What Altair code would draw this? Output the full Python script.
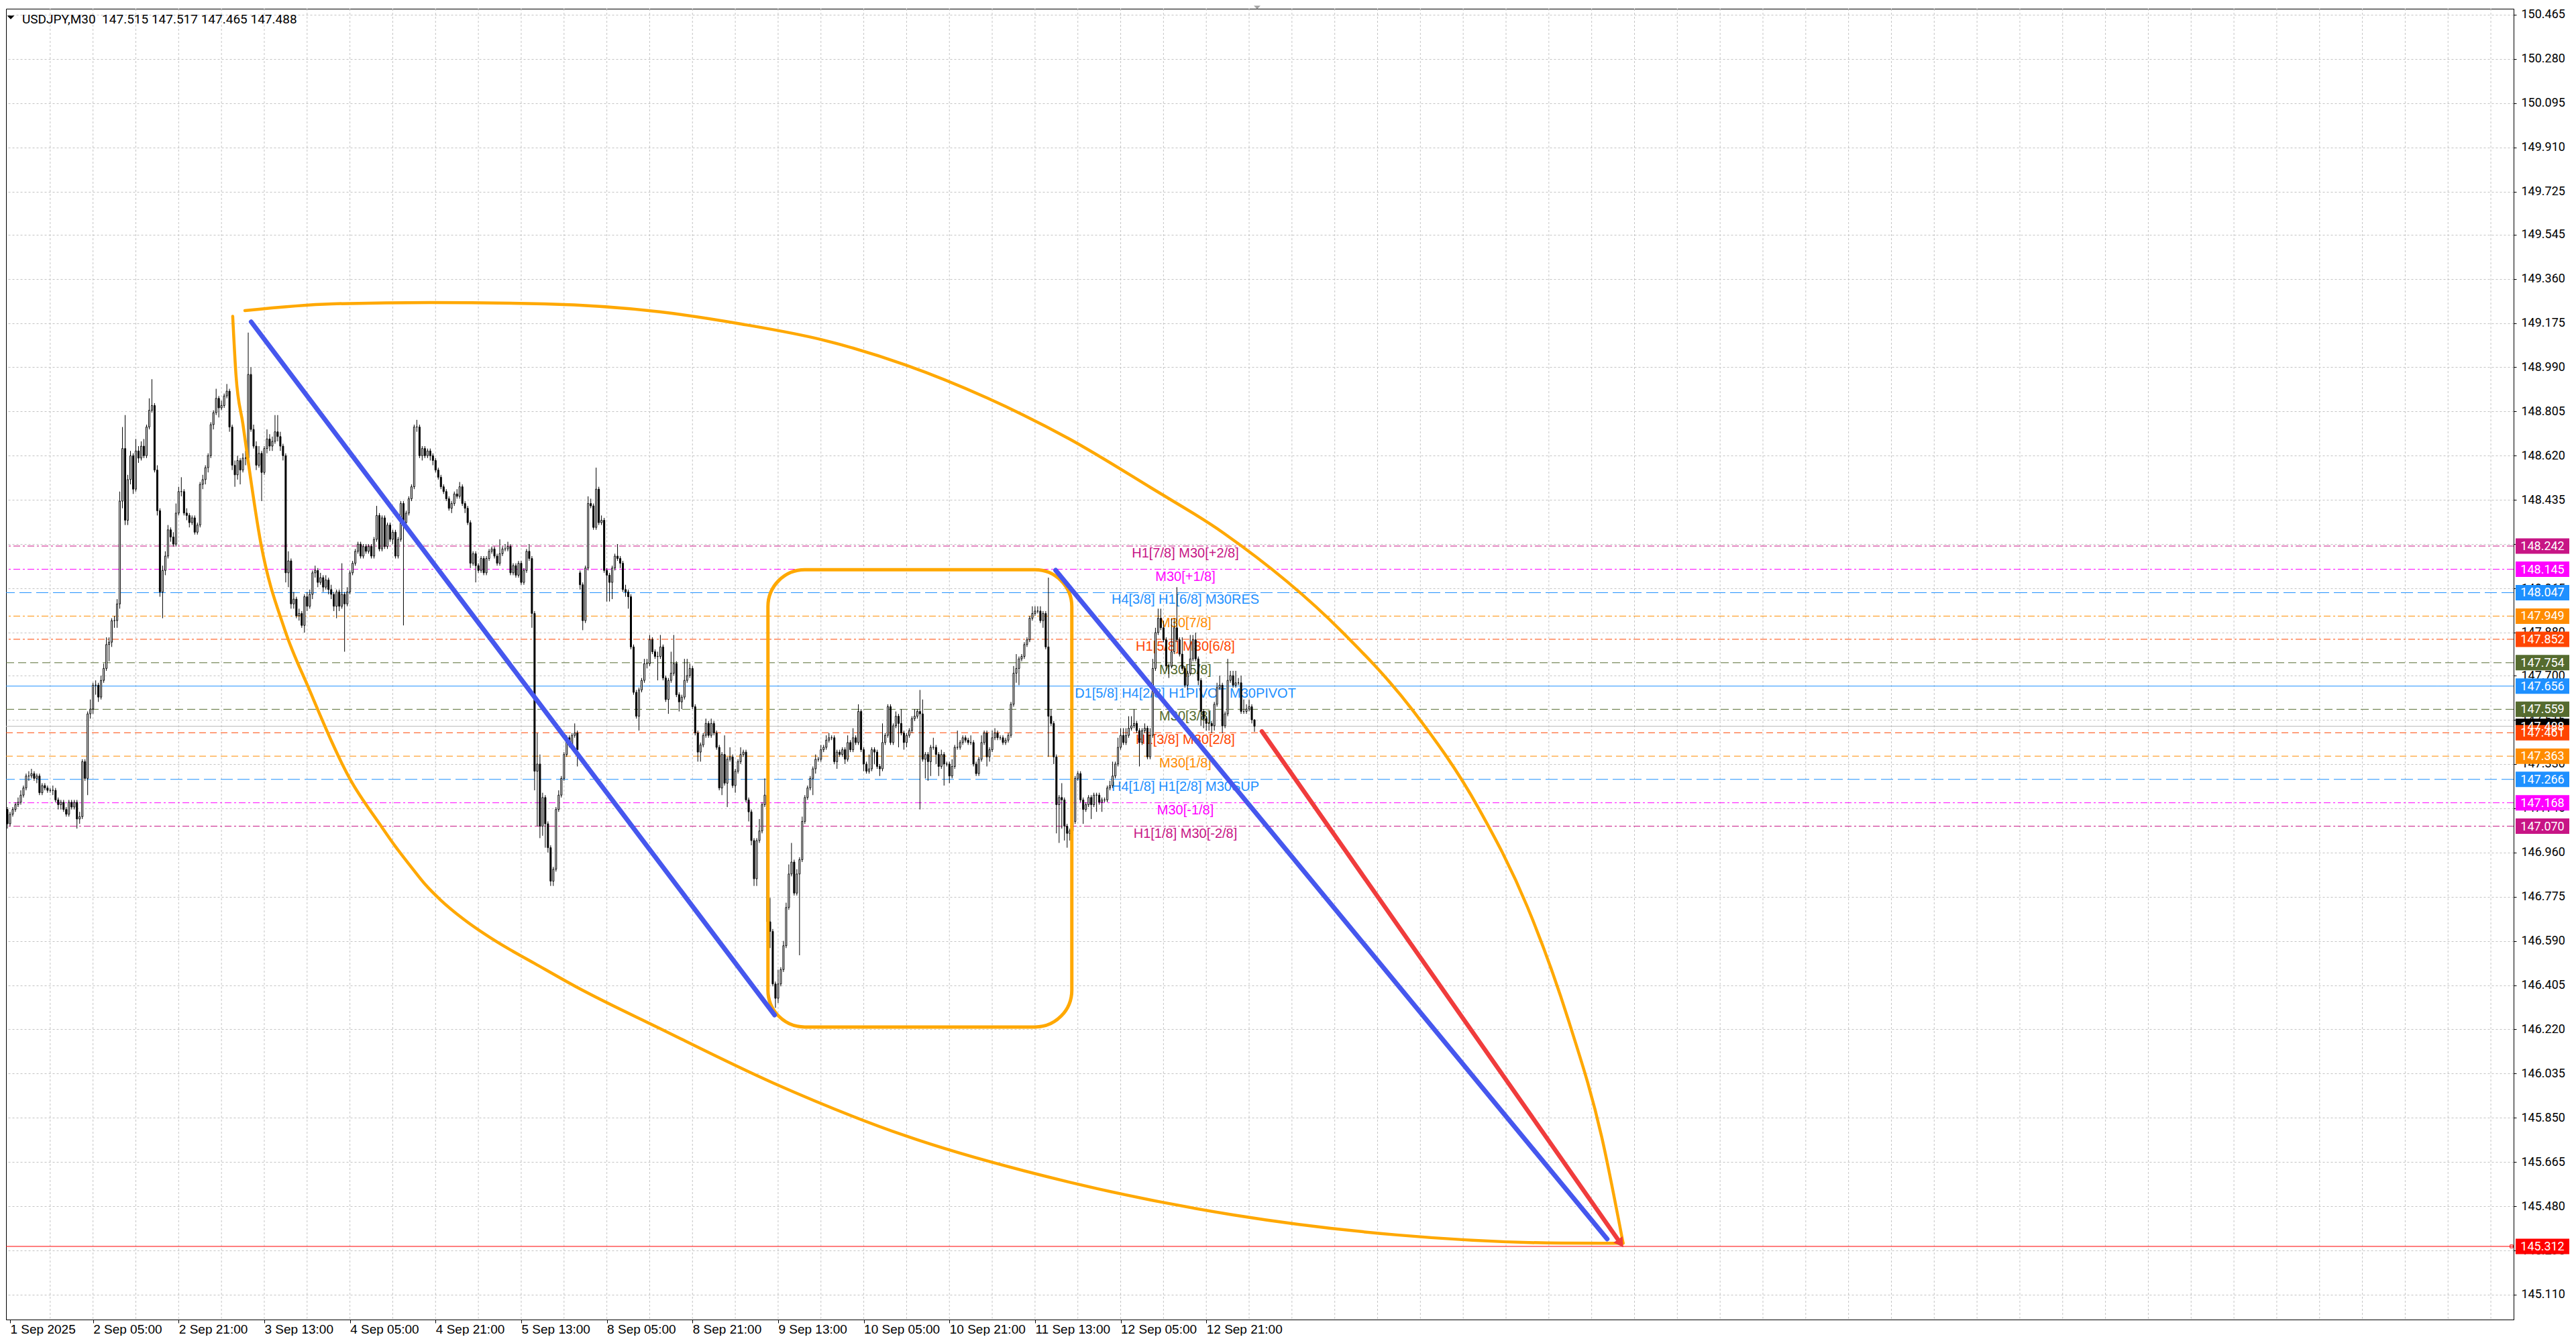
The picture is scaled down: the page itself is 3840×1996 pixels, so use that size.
import json
import altair as alt
import pandas as pd

# ---------------- data ----------------
CLOSE = [
147.08,147.12,147.14,147.16,147.17,147.20,147.23,147.28,147.28,147.29,
147.27,147.28,147.21,147.24,147.23,147.22,147.22,147.22,147.18,147.16,
147.17,147.14,147.12,147.17,147.15,147.17,147.10,147.11,147.34,147.27,
147.54,147.56,147.66,147.66,147.61,147.68,147.73,147.83,147.84,147.93,
147.93,148.00,148.43,148.65,148.35,148.52,148.62,148.48,148.64,148.61,
148.66,148.62,148.74,148.81,148.83,148.56,148.39,148.05,148.14,148.20,
148.31,148.28,148.25,148.38,148.47,148.47,148.38,148.37,148.34,148.36,
148.30,148.33,148.50,148.52,148.57,148.62,148.75,148.80,148.86,148.82,
148.83,148.87,148.89,148.74,148.58,148.54,148.60,148.56,148.61,148.61,
148.96,148.73,148.66,148.58,148.63,148.55,148.65,148.69,148.66,148.68,
148.72,148.70,148.66,148.62,148.13,148.18,148.00,148.02,147.95,147.96,
147.91,148.03,147.99,148.04,148.13,148.14,148.09,148.11,148.07,148.10,
148.06,148.04,147.99,148.05,147.99,148.04,148.00,148.05,148.13,148.17,
148.22,148.25,148.20,148.24,148.22,148.24,148.20,148.27,148.37,148.23,
148.36,148.24,148.33,148.27,148.30,148.20,148.27,148.42,148.34,148.38,
148.44,148.49,148.74,148.74,148.62,148.65,148.62,148.64,148.62,148.60,
148.56,148.53,148.49,148.47,148.44,148.40,148.42,148.46,148.45,148.49,
148.42,148.40,148.34,148.17,148.21,148.16,148.14,148.19,148.13,148.19,
148.22,148.23,148.20,148.17,148.21,148.23,148.23,148.24,148.13,148.16,
148.12,148.17,148.09,148.14,148.22,148.19,147.96,147.30,147.33,147.07,
147.19,147.08,146.98,146.84,146.89,147.14,147.20,147.27,147.37,147.44,
147.41,147.45,147.46,147.39,148.08,147.93,148.15,148.42,148.41,148.32,
148.48,148.34,148.35,148.14,148.12,148.09,148.15,148.20,148.19,148.17,
148.06,148.05,148.03,147.82,147.63,147.53,147.64,147.68,147.75,147.75,
147.85,147.80,147.78,147.78,147.82,147.69,147.60,147.68,147.71,147.75,
147.62,147.59,147.61,147.68,147.70,147.73,147.57,147.46,147.38,147.41,
147.45,147.50,147.45,147.50,147.46,147.40,147.23,147.37,147.25,147.35,
147.36,147.24,147.30,147.34,147.37,147.38,147.18,147.13,147.01,146.85,
147.01,147.05,147.16,147.20,146.67,146.63,146.41,146.35,146.41,146.47,
146.57,146.73,146.87,146.92,146.79,146.87,146.93,147.09,147.19,147.23,
147.27,147.31,147.35,147.35,147.39,147.40,147.43,147.44,147.44,147.34,
147.38,147.37,147.39,147.35,147.42,147.39,147.44,147.42,147.55,147.39,
147.33,147.30,147.31,147.39,147.38,147.32,147.31,147.42,147.45,147.57,
147.42,147.49,147.53,147.50,147.46,147.42,147.45,147.47,147.52,147.53,
147.55,147.54,147.35,147.37,147.34,147.40,147.40,147.37,147.32,147.37,
147.33,147.33,147.28,147.32,147.40,147.40,147.42,147.44,147.43,147.42,
147.42,147.33,147.29,147.35,147.42,147.46,147.36,147.39,147.44,147.46,
147.44,147.44,147.42,147.43,147.45,147.58,147.71,147.73,147.77,147.78,
147.83,147.85,147.94,147.96,147.97,147.97,147.93,147.96,147.82,147.53,
147.50,147.36,147.16,147.19,147.18,147.07,147.04,147.05,147.09,147.27,
147.29,147.18,147.14,147.16,147.19,147.16,147.20,147.20,147.17,147.18,
147.18,147.23,147.24,147.28,147.33,147.40,147.45,147.42,147.45,147.48,
147.49,147.50,147.47,147.42,147.47,147.48,147.36,147.45,147.73,147.88,
147.94,147.90,147.85,147.74,147.74,147.80,147.90,147.85,147.79,147.73,
147.66,147.71,147.77,147.85,147.77,147.68,147.55,147.52,147.50,147.50,
147.49,147.58,147.65,147.66,147.49,147.54,147.68,147.70,147.66,147.67,
147.67,147.55,147.55,147.56,147.57,147.515,147.488]

HIGH = [
147.15,147.13,147.15,147.17,147.19,147.22,147.24,147.29,147.30,147.31,
147.30,147.29,147.29,147.25,147.25,147.24,147.23,147.24,147.23,147.19,
147.18,147.18,147.15,147.18,147.18,147.18,147.18,147.13,147.35,147.35,
147.55,147.60,147.67,147.68,147.67,147.70,147.75,147.86,147.86,147.94,
147.95,148.02,148.47,148.74,148.79,148.54,148.64,148.63,148.69,148.66,
148.68,148.69,148.75,148.86,148.94,148.84,148.58,148.40,148.16,148.22,
148.33,148.32,148.30,148.42,148.49,148.53,148.48,148.40,148.38,148.37,
148.37,148.34,148.51,148.54,148.58,148.63,148.76,148.81,148.90,148.87,
148.85,148.88,148.92,148.90,148.75,148.60,148.62,148.61,148.63,148.64,
149.135,148.99,148.75,148.68,148.66,148.64,148.66,148.73,148.71,148.70,
148.79,148.79,148.72,148.67,148.63,148.22,148.19,148.05,148.03,147.98,
147.97,148.04,148.05,148.06,148.14,148.16,148.15,148.13,148.12,148.12,
148.11,148.08,148.05,148.06,148.06,148.17,148.05,148.07,148.14,148.18,
148.23,148.26,148.26,148.25,148.25,148.25,148.25,148.28,148.41,148.38,
148.37,148.37,148.34,148.34,148.31,148.31,148.28,148.43,148.43,148.39,
148.45,148.50,148.75,148.77,148.75,148.66,148.66,148.65,148.65,148.63,
148.61,148.57,148.54,148.50,148.48,148.45,148.43,148.47,148.48,148.51,
148.50,148.43,148.41,148.35,148.22,148.22,148.17,148.20,148.20,148.20,
148.23,148.24,148.24,148.21,148.27,148.24,148.25,148.26,148.25,148.17,
148.17,148.18,148.18,148.15,148.23,148.25,148.20,147.97,147.46,147.37,
147.21,147.20,147.09,146.99,146.90,147.15,147.22,147.28,147.38,147.45,
147.45,147.46,147.50,147.47,148.14,148.09,148.16,148.45,148.44,148.42,
148.57,148.49,148.37,148.36,148.15,148.13,148.16,148.21,148.25,148.20,
148.18,148.08,148.06,148.04,147.83,147.64,147.65,147.69,147.77,147.77,
147.87,147.86,147.81,147.80,147.87,147.83,147.70,147.69,147.80,147.87,
147.76,147.63,147.62,147.77,147.77,147.75,147.74,147.58,147.47,147.42,
147.46,147.52,147.51,147.52,147.51,147.47,147.41,147.38,147.45,147.36,
147.40,147.37,147.31,147.35,147.40,147.39,147.39,147.19,147.14,147.02,
147.02,147.10,147.17,147.27,147.21,146.77,146.64,146.42,146.47,146.48,
146.59,146.75,146.91,147.00,146.93,146.89,146.94,147.11,147.20,147.24,
147.28,147.32,147.37,147.36,147.41,147.41,147.45,147.46,147.45,147.45,
147.39,147.39,147.40,147.40,147.45,147.43,147.48,147.45,147.58,147.56,
147.40,147.34,147.37,147.40,147.40,147.39,147.33,147.50,147.46,147.58,
147.58,147.50,147.55,147.54,147.56,147.47,147.46,147.48,147.53,147.56,
147.56,147.64,147.60,147.38,147.38,147.41,147.44,147.41,147.38,147.39,
147.38,147.34,147.34,147.35,147.41,147.47,147.43,147.45,147.45,147.44,
147.45,147.43,147.34,147.36,147.45,147.47,147.47,147.40,147.47,147.48,
147.47,147.45,147.45,147.44,147.46,147.59,147.74,147.79,147.78,147.79,
147.84,147.86,147.95,147.99,147.99,147.99,147.99,147.97,147.97,148.11,
147.56,147.51,147.37,147.20,147.25,147.19,147.08,147.06,147.10,147.28,
147.30,147.30,147.19,147.17,147.20,147.20,147.21,147.21,147.21,147.19,
147.19,147.24,147.26,147.34,147.34,147.44,147.48,147.48,147.48,147.53,
147.53,147.56,147.51,147.48,147.48,147.50,147.49,147.48,147.77,147.90,
147.98,147.98,147.93,147.86,147.75,147.94,147.94,148.07,147.86,147.86,
147.74,147.72,147.87,147.87,147.88,147.78,147.69,147.56,147.53,147.55,
147.51,147.59,147.67,147.70,147.67,147.55,147.77,147.72,147.72,147.72,
147.69,147.70,147.60,147.58,147.60,147.58,147.517]

LOW = [
147.06,147.07,147.11,147.13,147.15,147.16,147.19,147.22,147.26,147.27,
147.26,147.25,147.20,147.20,147.22,147.21,147.21,147.20,147.17,147.14,
147.14,147.13,147.11,147.11,147.14,147.14,147.06,147.08,147.10,147.26,
147.20,147.52,147.54,147.62,147.59,147.60,147.67,147.72,147.76,147.82,
147.90,147.90,147.98,148.40,148.33,148.33,148.50,148.46,148.47,148.59,
148.60,148.61,148.61,148.73,148.80,148.55,148.37,148.03,147.94,148.12,
148.19,148.26,148.24,148.24,148.37,148.45,148.37,148.35,148.32,148.33,
148.29,148.29,148.32,148.48,148.50,148.55,148.61,148.73,148.79,148.78,
148.81,148.82,148.86,148.72,148.56,148.49,148.52,148.50,148.55,148.58,
148.60,148.72,148.65,148.56,148.57,148.43,148.54,148.63,148.64,148.64,
148.67,148.68,148.64,148.60,148.09,148.07,147.98,147.98,147.94,147.93,
147.90,147.88,147.97,147.98,148.02,148.11,148.07,148.08,148.05,148.06,
148.04,148.02,147.97,147.94,147.97,147.98,147.80,147.99,148.04,148.12,
148.16,148.21,148.19,148.19,148.21,148.21,148.19,148.19,148.26,148.22,
148.22,148.23,148.23,148.26,148.25,148.19,148.19,148.26,147.91,148.32,
148.37,148.43,148.48,148.72,148.61,148.60,148.61,148.61,148.60,148.58,
148.55,148.52,148.48,148.46,148.43,148.39,148.38,148.41,148.44,148.44,
148.41,148.38,148.33,148.15,148.16,148.09,148.13,148.13,148.12,148.12,
148.18,148.21,148.19,148.16,148.16,148.20,148.22,148.22,148.12,148.12,
148.11,148.11,148.08,148.08,148.13,148.18,147.90,147.22,147.07,147.02,
147.03,146.98,146.96,146.82,146.82,146.88,147.13,147.19,147.26,147.36,
147.40,147.40,147.44,147.32,148.06,147.89,147.92,148.14,148.40,148.31,
148.31,148.33,148.33,148.13,148.01,148.01,148.02,148.14,148.18,148.15,
148.05,148.03,147.98,147.81,147.62,147.52,147.47,147.63,147.67,147.73,
147.74,147.79,147.77,147.68,147.77,147.68,147.59,147.54,147.67,147.70,
147.61,147.55,147.56,147.60,147.67,147.69,147.56,147.45,147.34,147.34,
147.40,147.44,147.44,147.44,147.45,147.39,147.22,147.20,147.24,147.15,
147.34,147.23,147.21,147.29,147.33,147.36,147.17,147.09,146.99,146.82,
146.82,147.00,147.04,147.15,146.64,146.56,146.40,146.31,146.33,146.40,
146.46,146.56,146.72,146.86,146.78,146.78,146.53,146.92,147.08,147.18,
147.22,147.20,147.29,147.34,147.34,147.38,147.39,147.42,147.43,147.33,
147.31,147.36,147.36,147.33,147.34,147.38,147.38,147.41,147.41,147.38,
147.30,147.29,147.29,147.30,147.33,147.31,147.28,147.30,147.41,147.44,
147.41,147.41,147.48,147.40,147.45,147.39,147.40,147.44,147.46,147.51,
147.52,147.14,147.34,147.27,147.26,147.28,147.39,147.33,147.28,147.31,
147.24,147.32,147.25,147.27,147.31,147.39,147.39,147.41,147.42,147.41,
147.41,147.32,147.28,147.28,147.34,147.41,147.32,147.34,147.38,147.43,
147.43,147.43,147.41,147.41,147.42,147.44,147.57,147.67,147.66,147.76,
147.77,147.82,147.84,147.93,147.95,147.96,147.92,147.90,147.81,147.36,
147.49,147.33,147.04,147.00,147.06,147.01,146.98,147.01,147.03,147.08,
147.26,147.17,147.08,147.13,147.15,147.10,147.15,147.13,147.16,147.13,
147.17,147.17,147.22,147.23,147.27,147.32,147.39,147.41,147.41,147.44,
147.47,147.48,147.46,147.32,147.41,147.46,147.35,147.35,147.44,147.72,
147.87,147.89,147.84,147.72,147.69,147.73,147.79,147.84,147.78,147.72,
147.65,147.64,147.70,147.76,147.76,147.66,147.49,147.48,147.47,147.47,
147.46,147.47,147.57,147.64,147.46,147.48,147.53,147.67,147.65,147.65,
147.66,147.54,147.54,147.54,147.55,147.50,147.465]

FIRST_OPEN = 147.14
GAP_OPENS = {214: 148.13}          # Monday gap open

TITLE = "USDJPY,M30\u00a0\u00a0147.515 147.517 147.465 147.488"

X_TICK_BARS = [1, 32, 64, 96, 128, 160, 192, 224, 256, 288, 320, 352, 384, 416, 448]
X_TICK_LABELS = ["1 Sep 2025", "2 Sep 05:00", "2 Sep 21:00", "3 Sep 13:00", "4 Sep 05:00",
                 "4 Sep 21:00", "5 Sep 13:00", "8 Sep 05:00", "8 Sep 21:00", "9 Sep 13:00",
                 "10 Sep 05:00", "10 Sep 21:00", "11 Sep 13:00", "12 Sep 05:00", "12 Sep 21:00"]

Y_TICKS = [150.465, 150.280, 150.095, 149.910, 149.725, 149.545, 149.360, 149.175, 148.990,
           148.805, 148.620, 148.435, 148.250, 148.065, 147.880, 147.700, 147.515, 147.330,
           147.145, 146.960, 146.775, 146.590, 146.405, 146.220, 146.035, 145.850, 145.665,
           145.480, 145.295, 145.110]

LEVEL_PRICES = [148.242, 148.145, 148.047, 147.949, 147.852, 147.754, 147.656,
                147.559, 147.461, 147.363, 147.266, 147.168, 147.070]
LEVEL_TEXTS = ["H1[7/8] M30[+2/8]", "M30[+1/8]", "H4[3/8] H1[6/8] M30RES", "M30[7/8]",
               "H1[5/8] M30[6/8]", "M30[5/8]", "D1[5/8] H4[2/8] H1PIVOT M30PIVOT", "M30[3/8]",
               "H1[3/8] M30[2/8]", "M30[1/8]", "H4[1/8] H1[2/8] M30SUP", "M30[-1/8]",
               "H1[1/8] M30[-2/8]"]
LEVEL_COLORS = ["#c71585", "#ff00ff", "#1e90ff", "#ff8c00", "#ff4500", "#556b2f", "#1e90ff",
                "#556b2f", "#ff4500", "#ff8c00", "#1e90ff", "#ff00ff", "#c71585"]
LEVEL_STYLES = ["dashdot", "dashdot", "dash", "dashdot", "dashdot", "dash2", "solid",
                "dash2", "dash3", "dash3", "dash", "dashdot", "dashdot"]

TARGET_PRICE = 145.312
LAST_PRICE = 147.488

# drawing objects (bar index, price)
RECT_BARS = [284.2, 397.75]
RECT_PRICES = [148.143, 146.230]
BLUE1_BARS = [91.1, 286.7]
BLUE1_PRICES = [149.18, 146.28]
BLUE2_BARS = [391.7, 597.8]
BLUE2_PRICES = [148.141, 145.343]
RED_BARS = [468.75, 602.5]
RED_PRICES = [147.467, 145.33]
UPPER_ARC_BARS = [88.75, 121.2, 158, 200.8, 243.7, 274.2, 304.8, 335.5, 366, 396.7, 427.3,
                  454.5, 498.75, 525, 549.75, 568, 583.5, 595.75, 603.75]
UPPER_ARC_PRICES = [149.227, 149.255, 149.261, 149.255, 149.222, 149.171, 149.104, 149.000,
                    148.862, 148.691, 148.486, 148.296, 147.883, 147.557, 147.145, 146.732,
                    146.252, 145.770, 145.325]
LOWER_ARC_BARS = [84.2, 85.4, 88.0, 94.75, 103.65, 112.5, 128.25, 139.25, 145.0, 150.5, 156.0,
                  162.0, 170.0, 182.5, 197.0, 213.0, 243.75, 286.5, 335.5, 396.75, 458,
                  519.25, 580.5, 603.75]
LOWER_ARC_PRICES = [149.203, 148.961, 148.753, 148.251, 147.892, 147.650, 147.263, 147.077,
                    146.985, 146.905, 146.828, 146.760, 146.685, 146.589, 146.496, 146.395,
                    146.224, 145.994, 145.775, 145.581, 145.444, 145.360, 145.326, 145.325]

# ---------------- styling / layout ----------------
W, H = 3738, 1954
DASHES = {"dashdot": [10, 4, 3, 4], "dash": [18, 7], "dash2": [12, 6], "dash3": [10, 6], "solid": [1, 0]}
XS = alt.Scale(domain=[0.75, 935.25], nice=False, zero=False)
YS = alt.Scale(domain=[145.006, 150.490], nice=False, zero=False)

label_expr = f"{json.dumps(X_TICK_LABELS)}[indexof({json.dumps(X_TICK_BARS)}, datum.value)]"
XAXIS = alt.Axis(values=X_TICK_BARS, labelExpr=label_expr, orient="bottom", grid=False,
                 tickSize=5, tickColor="black", domainColor="black", labelAlign="left",
                 labelBaseline="top", labelFont="Liberation Sans", labelFontSize=19,
                 labelColor="black", labelPadding=0, title=None, labelOverlap=False,
                 labelFlush=False, labelBound=False)
YAXIS = alt.Axis(values=Y_TICKS, format=".3f", orient="right", grid=True, gridColor="#c4c4c4",
                 gridDash=[3, 3], gridWidth=1, tickSize=4, tickColor="black", domainColor="black",
                 labelFont="Roboto", labelFontSize=18, labelColor="black", labelPadding=7,
                 labelAlign="left", title=None, labelOverlap=False, labelFlush=False,
                 labelBound=False)


def X(f):
    return alt.X(f, type="quantitative", scale=XS, axis=XAXIS)


def Y(f):
    return alt.Y(f, type="quantitative", scale=YS, axis=YAXIS)


opens = [FIRST_OPEN] + CLOSE[:-1]
for k, v in GAP_OPENS.items():
    opens[k] = v
candles = pd.DataFrame({"i": list(range(len(CLOSE))), "o": opens, "h": HIGH, "l": LOW, "c": CLOSE})

layers = []

# vertical grid every 16 bars
vgrid = pd.DataFrame({"i": list(range(16, 936, 16))})
layers.append(alt.Chart(vgrid).mark_rule(color="#c4c4c4", strokeDash=[3, 3], strokeWidth=1)
              .encode(x=X("i")))

# murrey levels
for p, col, st in zip(LEVEL_PRICES, LEVEL_COLORS, LEVEL_STYLES):
    layers.append(alt.Chart(pd.DataFrame({"p": [p]}))
                  .mark_rule(color=col, strokeDash=DASHES[st], strokeWidth=1)
                  .encode(y=Y("p")))
layers.append(alt.Chart(pd.DataFrame({"p": [LAST_PRICE]}))
              .mark_rule(color="#b8b8b8", strokeWidth=1).encode(y=Y("p")))
layers.append(alt.Chart(pd.DataFrame({"p": [TARGET_PRICE]}))
              .mark_rule(color="#ff0000", strokeWidth=1).encode(y=Y("p")))
layers.append(alt.Chart(pd.DataFrame({"p": [TARGET_PRICE]}))
              .mark_point(shape="square", filled=False, color="#ff0000", size=20, strokeWidth=1, opacity=1)
              .encode(y=Y("p"), x=alt.value(W - 3)))

# level labels
lab = pd.DataFrame({"p": LEVEL_PRICES, "t": LEVEL_TEXTS, "col": LEVEL_COLORS})
layers.append(alt.Chart(lab).mark_text(font="Liberation Sans", fontSize=20, align="center",
                                       baseline="top", dy=1)
              .encode(x=alt.value(1758), y=Y("p"), text="t:N", color=alt.Color("col:N", scale=None)))

# candles
layers.append(alt.Chart(candles).mark_rule(color="black", strokeWidth=1, clip=True)
              .encode(x=X("i"), y=Y("l"), y2="h:Q"))
layers.append(alt.Chart(candles).mark_bar(size=2, stroke="black", strokeWidth=1, clip=True)
              .encode(x=X("i"), y=Y("o"), y2="c:Q",
                      fill=alt.condition("datum.c > datum.o", alt.value("white"), alt.value("black"))))

# rounded rectangle
rect = pd.DataFrame({"x1": [RECT_BARS[0]], "x2": [RECT_BARS[1]], "y1": [RECT_PRICES[0]], "y2": [RECT_PRICES[1]]})
layers.append(alt.Chart(rect).mark_rect(fillOpacity=0, stroke="#ffa800", strokeWidth=5, cornerRadius=55)
              .encode(x=X("x1"), x2="x2:Q", y=Y("y1"), y2="y2:Q"))

# arcs
for bars, prices in [(UPPER_ARC_BARS, UPPER_ARC_PRICES), (LOWER_ARC_BARS, LOWER_ARC_PRICES)]:
    layers.append(alt.Chart(pd.DataFrame({"i": bars, "p": prices}))
                  .mark_line(color="#ffa800", strokeWidth=4.5, interpolate="monotone", strokeCap="round")
                  .encode(x=X("i"), y=Y("p")))

# blue trend lines
for bars, prices in [(BLUE1_BARS, BLUE1_PRICES), (BLUE2_BARS, BLUE2_PRICES)]:
    layers.append(alt.Chart(pd.DataFrame({"i": bars, "p": prices}))
                  .mark_line(color="#4657ee", strokeWidth=7, strokeCap="round")
                  .encode(x=X("i"), y=Y("p")))

# red arrow
layers.append(alt.Chart(pd.DataFrame({"i": RED_BARS, "p": RED_PRICES}))
              .mark_line(color="#f03c3c", strokeWidth=6.5, strokeCap="round")
              .encode(x=X("i"), y=Y("p")))
layers.append(alt.Chart(pd.DataFrame({"i": [RED_BARS[1]], "p": [RED_PRICES[1]]}))
              .mark_point(shape="triangle", angle=145, size=260, filled=True, color="#f03c3c", opacity=1)
              .encode(x=X("i"), y=Y("p")))

# right-side price boxes
box_prices = [LAST_PRICE] + LEVEL_PRICES + [TARGET_PRICE]
box_colors = ["#000000"] + LEVEL_COLORS + ["#ff0000"]
boxes = pd.DataFrame({"p": box_prices, "col": box_colors, "t": [f"{v:.3f}" for v in box_prices]})
box_shape = "M-1,-0.2875L1,-0.2875L1,0.2875L-1,0.2875Z"
layers.append(alt.Chart(boxes).mark_point(shape=box_shape, size=6400, filled=True, opacity=1, strokeWidth=0)
              .encode(x=alt.value(W + 43), y=Y("p"), color=alt.Color("col:N", scale=None)))
layers.append(alt.Chart(boxes).mark_text(font="Roboto", fontSize=18, align="center", baseline="middle",
                                         color="white", dy=1)
              .encode(x=alt.value(W + 43), y=Y("p"), text="t:N"))

# title & small markers
layers.append(alt.Chart(pd.DataFrame({"t": [TITLE]}))
              .mark_text(font="Roboto", fontSize=19, align="left", baseline="alphabetic", color="black")
              .encode(x=alt.value(24), y=alt.value(22), text="t:N"))
layers.append(alt.Chart(pd.DataFrame({"t": ["a"]}))
              .mark_point(shape="M-1,-0.5L1,-0.5L0,0.5Z", size=121, filled=True, color="black", opacity=1)
              .encode(x=alt.value(7), y=alt.value(13)))
layers.append(alt.Chart(pd.DataFrame({"t": ["a"]}))
              .mark_point(shape="M-1,-0.5L1,-0.5L0,0.5Z", size=100, filled=True, color="#a0a0a0", opacity=1)
              .encode(x=alt.value(1865), y=alt.value(-2)))

chart = (alt.layer(*layers)
         .properties(width=W, height=H, padding={"left": 0, "top": 0, "right": 0, "bottom": 0},
                     background="white")
         .configure_view(stroke="black", strokeWidth=1))

chart.save("out.html", embed_options={"renderer": "svg", "actions": False})
